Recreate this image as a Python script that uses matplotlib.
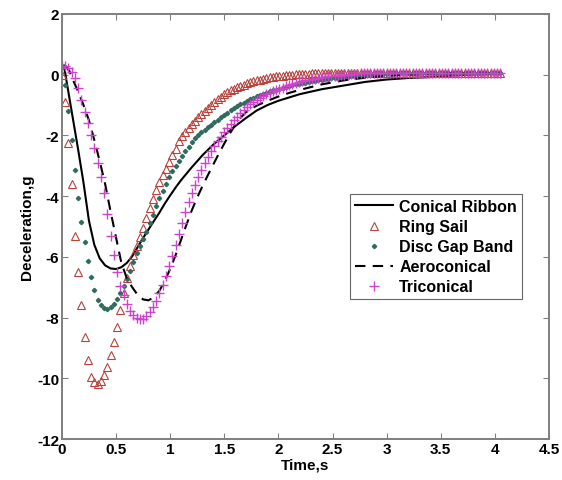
import matplotlib
matplotlib.use("Agg")
import matplotlib.pyplot as plt

# sample times of the marker series (s)
t_mk = [0.00, 0.03, 0.06, 0.09, 0.12, 0.15, 0.18, 0.21, 0.24, 0.27,
        0.30, 0.33, 0.36, 0.39, 0.42, 0.45, 0.48, 0.51, 0.54, 0.57,
        0.60, 0.63, 0.66, 0.69, 0.72, 0.75, 0.78, 0.81, 0.84, 0.87,
        0.90, 0.93, 0.96, 0.99, 1.02, 1.05, 1.08, 1.11, 1.14, 1.17,
        1.20, 1.23, 1.26, 1.29, 1.32, 1.35, 1.38, 1.41, 1.44, 1.47,
        1.50, 1.53, 1.56, 1.59, 1.62, 1.65, 1.68, 1.71, 1.74, 1.77,
        1.80, 1.83, 1.86, 1.89, 1.92, 1.95, 1.98, 2.01, 2.04, 2.07,
        2.10, 2.13, 2.16, 2.19, 2.22, 2.25, 2.28, 2.31, 2.34, 2.37,
        2.40, 2.43, 2.46, 2.49, 2.52, 2.55, 2.58, 2.61, 2.64, 2.67,
        2.70, 2.73, 2.76, 2.79, 2.82, 2.85, 2.88, 2.91, 2.94, 2.97,
        3.00, 3.03, 3.06, 3.09, 3.12, 3.15, 3.18, 3.21, 3.24, 3.27,
        3.30, 3.33, 3.36, 3.39, 3.42, 3.45, 3.48, 3.51, 3.54, 3.57,
        3.60, 3.63, 3.66, 3.69, 3.72, 3.75, 3.78, 3.81, 3.84, 3.87,
        3.90, 3.93, 3.96, 3.99, 4.02, 4.05]

ring_sail = [0.00, -0.90, -2.25, -3.60, -5.30, -6.50, -7.60, -8.65, -9.40, -9.95,
             -10.12, -10.17, -10.10, -9.90, -9.62, -9.24, -8.80, -8.30, -7.76, -7.20,
             -6.70, -6.30, -5.95, -5.65, -5.35, -5.05, -4.73, -4.40, -4.08, -3.80,
             -3.55, -3.32, -3.10, -2.88, -2.66, -2.45, -2.20, -2.03, -1.89, -1.76,
             -1.64, -1.52, -1.41, -1.30, -1.20, -1.10, -1.00, -0.90, -0.80, -0.72,
             -0.65, -0.58, -0.52, -0.47, -0.42, -0.37, -0.33, -0.29, -0.25, -0.22,
             -0.19, -0.16, -0.14, -0.11, -0.09, -0.07, -0.05, -0.04, -0.03, -0.02,
             -0.01, 0.00, 0.01, 0.02, 0.02, 0.03, 0.03, 0.04, 0.04, 0.05,
             0.05, 0.05, 0.05, 0.05, 0.05, 0.05, 0.05, 0.05, 0.05, 0.05,
             0.05, 0.05, 0.05, 0.05, 0.05, 0.05, 0.05, 0.05, 0.05, 0.05,
             0.05, 0.05, 0.05, 0.05, 0.05, 0.05, 0.05, 0.05, 0.05, 0.05,
             0.05, 0.05, 0.05, 0.05, 0.05, 0.05, 0.05, 0.05, 0.05, 0.05,
             0.05, 0.05, 0.05, 0.05, 0.05, 0.05, 0.05, 0.05, 0.05, 0.05,
             0.05, 0.05, 0.05, 0.05, 0.05, 0.05]

disc_gap_band = [0.25, -0.35, -1.20, -2.15, -3.15, -4.05, -4.85, -5.50, -6.12, -6.65,
                 -7.10, -7.42, -7.60, -7.68, -7.70, -7.66, -7.56, -7.40, -7.20, -6.97,
                 -6.72, -6.45, -6.17, -5.88, -5.63, -5.40, -5.17, -4.90, -4.62, -4.34,
                 -4.07, -3.82, -3.60, -3.38, -3.18, -3.00, -2.84, -2.68, -2.52, -2.37,
                 -2.22, -2.10, -2.00, -1.90, -1.81, -1.73, -1.65, -1.57, -1.48, -1.40,
                 -1.32, -1.25, -1.18, -1.11, -1.04, -0.98, -0.92, -0.86, -0.81, -0.76,
                 -0.71, -0.67, -0.63, -0.59, -0.55, -0.52, -0.49, -0.46, -0.43, -0.40,
                 -0.37, -0.34, -0.32, -0.30, -0.28, -0.26, -0.24, -0.22, -0.20, -0.18,
                 -0.17, -0.15, -0.14, -0.12, -0.11, -0.10, -0.09, -0.08, -0.07, -0.06,
                 -0.05, -0.04, -0.03, -0.02, -0.01, 0.00, 0.01, 0.02, 0.02, 0.03,
                 0.03, 0.04, 0.04, 0.05, 0.05, 0.05, 0.05, 0.05, 0.05, 0.05,
                 0.05, 0.05, 0.05, 0.05, 0.05, 0.05, 0.05, 0.05, 0.05, 0.05,
                 0.05, 0.05, 0.05, 0.05, 0.05, 0.05, 0.05, 0.05, 0.05, 0.05,
                 0.05, 0.05, 0.05, 0.05, 0.05, 0.05]

triconical = [0.30, 0.30, 0.22, 0.08, -0.12, -0.45, -0.85, -1.22, -1.60, -2.00,
              -2.40, -2.90, -3.37, -3.90, -4.60, -5.30, -5.95, -6.50, -6.95, -7.27,
              -7.55, -7.77, -7.92, -8.02, -8.06, -8.03, -7.94, -7.82, -7.65, -7.45,
              -7.20, -6.92, -6.62, -6.30, -5.96, -5.60, -5.24, -4.88, -4.53, -4.20,
              -3.90, -3.63, -3.37, -3.13, -2.92, -2.72, -2.53, -2.36, -2.20, -2.05,
              -1.90, -1.76, -1.63, -1.50, -1.38, -1.27, -1.17, -1.07, -0.98, -0.90,
              -0.83, -0.77, -0.71, -0.65, -0.60, -0.55, -0.51, -0.47, -0.43, -0.39,
              -0.35, -0.31, -0.28, -0.25, -0.22, -0.19, -0.17, -0.15, -0.13, -0.11,
              -0.09, -0.08, -0.06, -0.05, -0.04, -0.03, -0.02, -0.01, 0.00, 0.01,
              0.02, 0.03, 0.04, 0.05, 0.05, 0.05, 0.05, 0.05, 0.05, 0.05,
              0.05, 0.05, 0.05, 0.05, 0.05, 0.05, 0.05, 0.05, 0.05, 0.05,
              0.05, 0.05, 0.05, 0.05, 0.05, 0.05, 0.05, 0.05, 0.05, 0.05,
              0.05, 0.05, 0.05, 0.05, 0.05, 0.05, 0.05, 0.05, 0.05, 0.05,
              0.05, 0.05, 0.05, 0.05, 0.05, 0.05]

# line series
t_cr = [0.02, 0.05, 0.10, 0.15, 0.20, 0.25, 0.30, 0.35, 0.40, 0.45, 0.50, 0.55,
        0.60, 0.65, 0.70, 0.75, 0.80, 0.85, 0.90, 0.95, 1.00, 1.05, 1.10, 1.20,
        1.30, 1.40, 1.50, 1.60, 1.70, 1.80, 1.90, 2.00, 2.20, 2.40, 2.60, 2.80,
        3.00, 3.20, 3.40, 3.60, 3.80, 4.05]
conical_ribbon = [0.30, -0.35, -1.40, -2.45, -3.55, -4.80, -5.60, -6.05, -6.28, -6.38, -6.40, -6.34,
                  -6.20, -5.98, -5.68, -5.38, -5.10, -4.82, -4.55, -4.25, -3.98, -3.72, -3.48, -3.05,
                  -2.65, -2.30, -2.00, -1.70, -1.43, -1.18, -1.00, -0.86, -0.64, -0.48, -0.36, -0.24,
                  -0.16, -0.11, -0.08, -0.03, 0.01, 0.03]

t_ae = [0.03, 0.07, 0.10, 0.15, 0.20, 0.25, 0.30, 0.35, 0.40, 0.45, 0.50, 0.55,
        0.60, 0.65, 0.70, 0.75, 0.80, 0.85, 0.90, 0.95, 1.00, 1.05, 1.10, 1.15,
        1.20, 1.25, 1.30, 1.35, 1.40, 1.45, 1.50, 1.55, 1.60, 1.65, 1.70, 1.75,
        1.80, 1.90, 2.00, 2.10, 2.20, 2.40, 2.60, 2.80, 3.00, 3.20, 3.50, 4.05]
aeroconical = [0.30, 0.12, -0.15, -0.55, -1.00, -1.50, -2.15, -2.85, -3.60, -4.50, -5.35, -6.20,
               -6.70, -7.00, -7.25, -7.40, -7.43, -7.33, -7.12, -6.80, -6.40, -5.95, -5.45, -4.95,
               -4.47, -4.05, -3.66, -3.30, -2.95, -2.60, -2.27, -1.95, -1.66, -1.42, -1.24, -1.12,
               -1.02, -0.86, -0.72, -0.60, -0.50, -0.32, -0.19, -0.10, -0.04, 0.00, 0.04, 0.05]

x_ticks = [0, 0.5, 1, 1.5, 2, 2.5, 3, 3.5, 4, 4.5]
y_ticks = [2, 0, -2, -4, -6, -8, -10, -12]

plt.rcParams['font.family'] = ['Liberation Sans', 'DejaVu Sans']
plt.rcParams['font.weight'] = 'bold'
plt.rcParams['axes.unicode_minus'] = False

fig = plt.figure(figsize=(5.62, 4.81), dpi=100)
ax = fig.add_axes([0.110, 0.085, 0.867, 0.884])

ax.plot(t_cr, conical_ribbon, color='black', lw=1.5, label='Conical Ribbon')
ax.plot(t_mk, ring_sail, ls='none', marker='^', ms=6, mfc='none',
        mec='#b8423c', mew=0.8, label='Ring Sail')
ax.plot(t_mk, disc_gap_band, ls='none', marker='D', ms=2.2,
        color='#2f6b60', label='Disc Gap Band')
ax.plot(t_ae, aeroconical, color='black', lw=1.5, ls=(0, (5, 3.5)), label='Aeroconical')
ax.plot(t_mk, triconical, ls='none', marker='+', ms=7, mew=1.0,
        color='#cc44cc', label='Triconical')

ax.set_xlim(0, 4.5)
ax.set_ylim(-12, 2)
ax.set_xticks(x_ticks)
ax.set_xticklabels(['0', '0.5', '1', '1.5', '2', '2.5', '3', '3.5', '4', '4.5'])
ax.set_yticks(y_ticks)
ax.tick_params(direction='in', length=4, width=0.8, color='#808080',
               top=True, right=True, labelsize=11, pad=2)
for s in ax.spines.values():
    s.set_color('#7f7f7f')
    s.set_linewidth(1.4)

ax.set_xlabel('Time,s', fontsize=11, fontweight='bold', labelpad=1)
ax.set_ylabel('Deceleration,g', fontsize=11, fontweight='bold', labelpad=2)

leg = ax.legend(loc='upper left', bbox_to_anchor=(0.591, 0.576), fontsize=11.5,
                frameon=True, fancybox=False, handlelength=2.4, borderpad=0.3,
                labelspacing=0.32, handletextpad=0.4, borderaxespad=0)
leg.get_frame().set_edgecolor('#404040')
leg.get_frame().set_linewidth(0.8)
for txt in leg.get_texts():
    txt.set_fontweight('bold')

fig.savefig('out.png', dpi=100)
